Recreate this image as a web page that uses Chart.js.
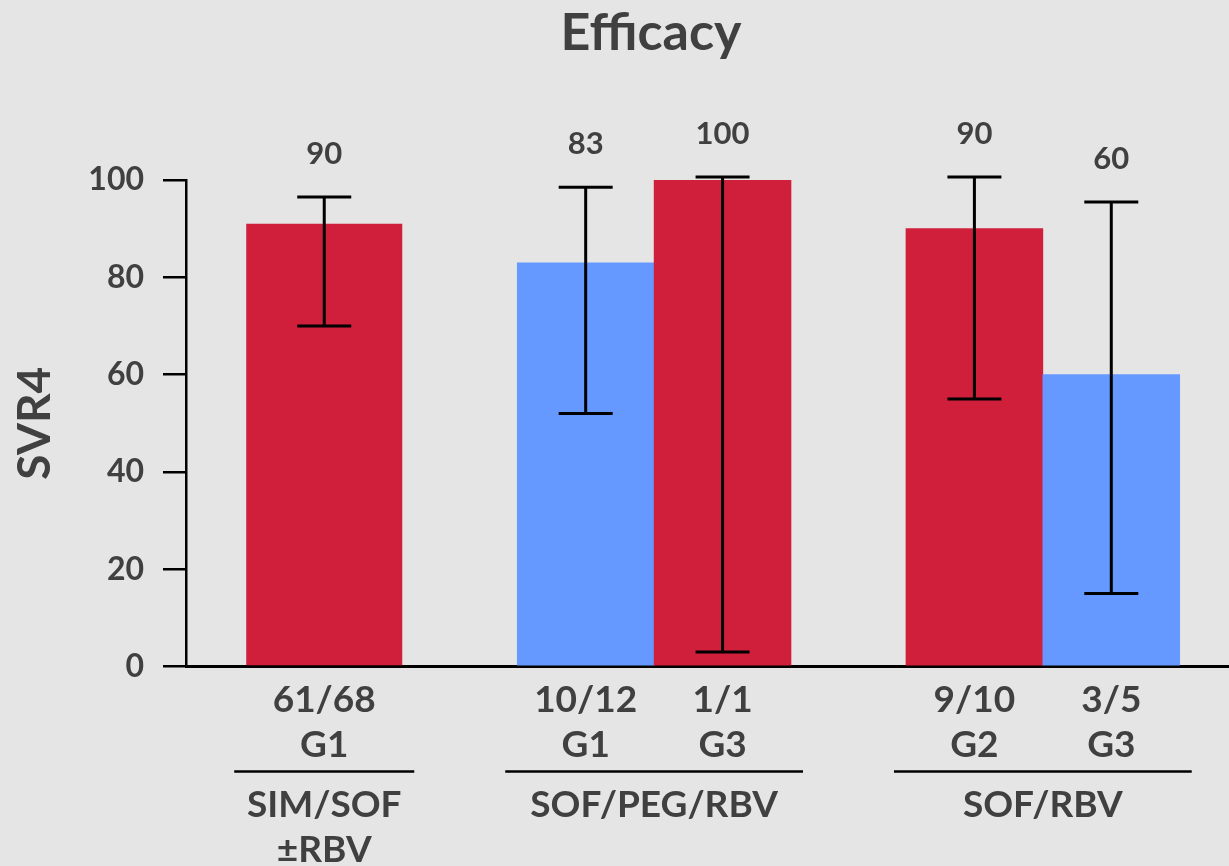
<!DOCTYPE html>
<html><head><meta charset="utf-8">
<script src="https://cdn.jsdelivr.net/npm/chart.js@4/dist/chart.umd.min.js"></script>
<style>
html,body{margin:0;padding:0;background:#e5e5e5;}
#wrap{width:1229px;height:866px;position:relative;}
</style>
</head><body>
<div id="wrap"><canvas id="c"></canvas></div>
<script>
// ---- data ----
const chartTitle = 'Efficacy';
const groupLabels = [['SIM/SOF', '±RBV'], ['SOF/PEG/RBV'], ['SOF/RBV']];
const barGroup = [0, 1, 1, 2, 2];
const barLabels = [['61/68', 'G1'], ['10/12', 'G1'], ['1/1', 'G3'], ['9/10', 'G2'], ['3/5', 'G3']];
const svr4 = [91, 83, 100, 90, 60];
const svr4Shown = ['90', '83', '100', '90', '60'];
const ciLow = [70, 52, 3, 55, 15];
const ciHigh = [96.5, 98.5, 100.6, 100.6, 95.5];
const yTickValues = [0, 20, 40, 60, 80, 100];

// ---- styles / layout (in bar-width units) ----
const BAR_COLORS = ['#cf1f3a', '#6699ff', '#cf1f3a', '#cf1f3a', '#6699ff'];
const TEXT = '#404040';
const EDGE_L = 0.44, GAP = 0.84, SINGLE_W = 1.14, EDGE_R = 0.36;

const xPos = [], widths = [];
let cursor = EDGE_L;
groupLabels.forEach((g, gi) => {
  const idx = barGroup.map((b, i) => b === gi ? i : -1).filter(i => i >= 0);
  const w = idx.length === 1 ? SINGLE_W : 1;
  if (gi > 0) cursor += GAP;
  idx.forEach(i => { xPos[i] = cursor + w / 2; widths[i] = w; cursor += w; });
});
const X_MAX = cursor + EDGE_R;

const wide = svr4.map((v, i) => i).filter(i => widths[i] !== 1);
const narrow = svr4.map((v, i) => i).filter(i => widths[i] === 1);

Chart.defaults.font.family = 'Lato';
Chart.defaults.color = TEXT;

const overlay = {
  id: 'overlay',
  beforeDraw(chart) {
    const ctx = chart.ctx;
    ctx.save();
    ctx.fillStyle = '#e5e5e5';
    ctx.fillRect(0, 0, chart.width, chart.height);
    ctx.restore();
  },
  afterDraw(chart) {
    const { ctx, scales: { x, y } } = chart;
    ctx.save();
    ctx.fillStyle = TEXT;
    ctx.textAlign = 'center';
    ctx.textBaseline = 'middle';
    // title
    ctx.font = 'bold 52px Lato';
    ctx.fillText(chartTitle, 651, 33);
    // error bars and value labels
    ctx.strokeStyle = '#000';
    ctx.lineWidth = 3;
    ctx.font = 'bold 31px Lato';
    svr4.forEach((v, i) => {
      const cx = x.getPixelForValue(xPos[i]);
      const yl = y.getPixelForValue(ciLow[i]);
      const yh = y.getPixelForValue(ciHigh[i]);
      const cap = 27;
      ctx.beginPath();
      ctx.moveTo(cx, yl); ctx.lineTo(cx, yh);
      ctx.moveTo(cx - cap, yh); ctx.lineTo(cx + cap, yh);
      ctx.moveTo(cx - cap, yl); ctx.lineTo(cx + cap, yl);
      ctx.stroke();
      ctx.fillText(svr4Shown[i], cx, yh - 43);
    });
    // group separators and labels
    ctx.font = 'bold 37px Lato';
    ctx.lineWidth = 2.5;
    groupLabels.forEach((g, gi) => {
      const idx = barGroup.map((b, i) => b === gi ? i : -1).filter(i => i >= 0);
      const left = Math.min(...idx.map(i => x.getPixelForValue(xPos[i] - widths[i] / 2))) - 12;
      const right = Math.max(...idx.map(i => x.getPixelForValue(xPos[i] + widths[i] / 2))) + 12;
      const ly = x.top + 105;
      ctx.beginPath();
      ctx.moveTo(left, ly); ctx.lineTo(right, ly);
      ctx.stroke();
      const cx = (left + right) / 2;
      g.forEach((line, li) => ctx.fillText(line, cx, x.top + 139 + li * 45));
    });
    ctx.restore();
  }
};

new Chart(document.getElementById('c'), {
  type: 'bar',
  data: {
    datasets: [
      {
        data: wide.map(i => ({ x: xPos[i], y: svr4[i] })),
        backgroundColor: wide.map(i => BAR_COLORS[i]),
        barPercentage: SINGLE_W, categoryPercentage: 1, grouped: false, borderWidth: 0
      },
      {
        data: narrow.map(i => ({ x: xPos[i], y: svr4[i] })),
        backgroundColor: narrow.map(i => BAR_COLORS[i]),
        barPercentage: 1, categoryPercentage: 1, grouped: false, borderWidth: 0
      }
    ]
  },
  options: {
    responsive: true,
    maintainAspectRatio: false,
    devicePixelRatio: 1,
    animation: false,
    layout: { padding: { top: 180, left: 0, right: 0, bottom: 0 } },
    plugins: {
      legend: { display: false },
      tooltip: { enabled: false },
      title: { display: false }
    },
    scales: {
      x: {
        type: 'linear', min: 0, max: X_MAX, offset: false, z: 1,
        afterBuildTicks(s) { s.ticks = xPos.map(v => ({ value: v })); },
        afterFit(s) { s.height = 199.5; },
        ticks: {
          autoSkip: false, maxRotation: 0, minRotation: 0, padding: 11, color: TEXT,
          font: { size: 37, weight: 'bold', lineHeight: 45 / 37 },
          callback: (v, i) => barLabels[i]
        },
        grid: { display: false, drawTicks: false },
        border: { display: true, color: '#000', width: 3 }
      },
      y: {
        min: 0, max: 100, z: 1,
        afterBuildTicks(s) { s.ticks = yTickValues.map(v => ({ value: v })); },
        afterFit(s) { s.width = 186; },
        ticks: { padding: 19, color: TEXT, font: { size: 32, weight: 'bold' } },
        grid: { display: true, drawOnChartArea: false, drawTicks: true, tickLength: 23, color: '#000', lineWidth: 2.5 },
        border: { display: true, color: '#000', width: 2.5 },
        title: {
          display: true, text: 'SVR4', color: TEXT,
          font: { size: 46, weight: 'bold', lineHeight: 1 },
          padding: { top: 12, bottom: 0 }
        }
      }
    }
  },
  plugins: [overlay]
});
</script>
</body></html>
